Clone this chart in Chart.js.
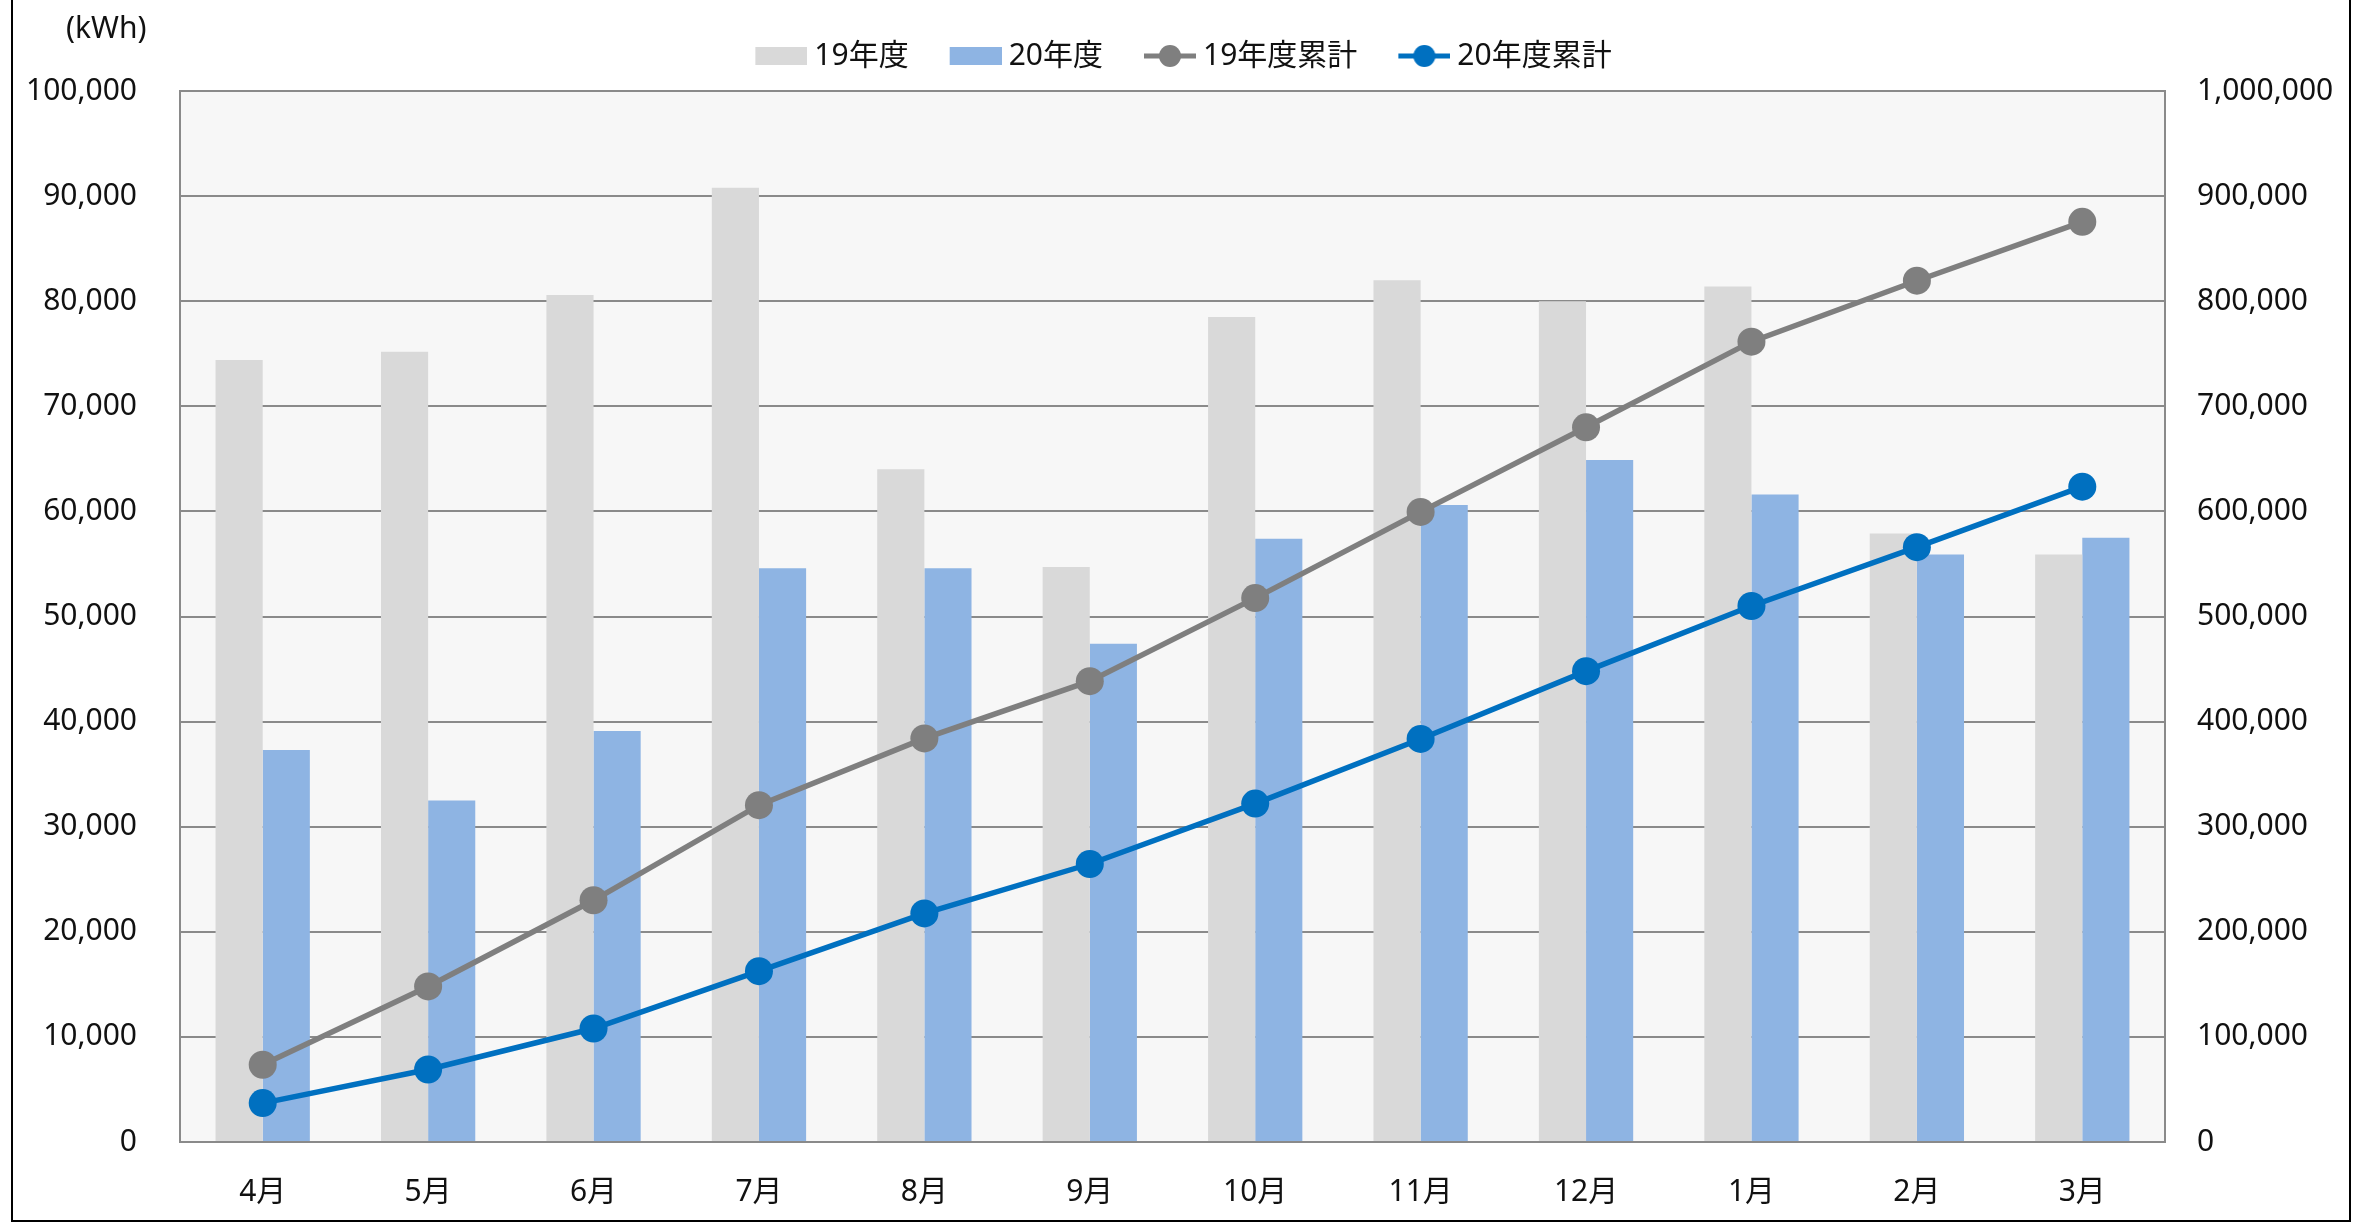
<!DOCTYPE html>
<html lang="ja">
<head>
<meta charset="utf-8">
<script src="https://cdn.jsdelivr.net/npm/chart.js@4.4.0/dist/chart.umd.min.js"></script>
<style>
  html, body { margin: 0; padding: 0; background: #fff; }
  #wrap { position: relative; width: 2367px; height: 1229px; overflow: hidden; }
  #frame { position: absolute; left: 11px; top: -3px; width: 2340px; height: 1225px; border: 2px solid #000; box-sizing: border-box; }
  #c { position: absolute; left: 0; top: 0; }
</style>
</head>
<body>
<div id="wrap"><div id="frame"></div><canvas id="c" width="2367" height="1229"></canvas></div>
<script>
// 月別 使用電力量 (kWh)
const months = ["4月", "5月", "6月", "7月", "8月", "9月", "10月", "11月", "12月", "1月", "2月", "3月"];
const fy19 = [74400, 75200, 80600, 90800, 64000, 54700, 78500, 82000, 80000, 81400, 57900, 55900];
const fy20 = [37300, 32500, 39100, 54600, 54600, 47400, 57400, 60600, 64900, 61600, 55900, 57500];
// 累計 (右軸)
const fy19Cum = [73500, 148000, 230000, 320500, 384000, 438500, 517500, 599500, 680000, 761500, 819500, 875500];
const fy20Cum = [37000, 69000, 108000, 162500, 217500, 264500, 322000, 383500, 448000, 510000, 566000, 623500];

const FONT = '"Noto Sans", "Noto Sans CJK JP", sans-serif';
const GRID = "#8a8a8a";
const TXT = "#111";

// 凡例アイコン (四角 / 線+丸)
function makeIcon(kind, color) {
  const c = document.createElement("canvas");
  c.width = 60; c.height = 30;
  const g = c.getContext("2d");
  if (kind === "box") {
    g.fillStyle = color;
    g.fillRect(8, 6, 52, 18);
  } else {
    g.strokeStyle = color; g.lineWidth = 5;
    g.beginPath(); g.moveTo(8, 15); g.lineTo(60, 15); g.stroke();
    g.fillStyle = color;
    g.beginPath(); g.arc(34, 15, 11, 0, Math.PI * 2); g.fill();
  }
  return c;
}
const icons = [makeIcon("box", "#d9d9d9"), makeIcon("box", "#8eb4e3"), makeIcon("line", "#7f7f7f"), makeIcon("line", "#0070c0")];

// プロット背景
const plotBg = {
  id: "plotBg",
  beforeDraw(chart) {
    const a = chart.chartArea, ctx = chart.ctx;
    ctx.save();
    ctx.fillStyle = "#f7f7f7";
    ctx.fillRect(a.left, a.top, a.right - a.left, a.bottom - a.top);
    ctx.restore();
  }
};

// 単位ラベル
const unitLabel = {
  id: "unitLabel",
  afterDraw(chart) {
    const ctx = chart.ctx;
    ctx.save();
    ctx.font = "30px " + FONT;
    ctx.fillStyle = TXT;
    ctx.textBaseline = "middle";
    ctx.fillText("(kWh)", 66, 29);
    ctx.restore();
  }
};

// 凡例の高さを固定
const legendHeight = {
  id: "legendHeight",
  beforeLayout(chart) {
    const lg = chart.legend;
    if (!lg || lg._fixed) return;
    const fit = lg.fit;
    lg.fit = function () { fit.call(this); this.height = 91; };
    lg._fixed = true;
  }
};

const tickFont = { size: 30, family: FONT };

new Chart(document.getElementById("c").getContext("2d"), {
  type: "bar",
  data: {
    labels: months,
    datasets: [
      { label: "19年度", data: fy19, backgroundColor: "#d9d9d9", yAxisID: "y", order: 2,
        categoryPercentage: 0.57, barPercentage: 1.0 },
      { label: "20年度", data: fy20, backgroundColor: "#8eb4e3", yAxisID: "y", order: 2,
        categoryPercentage: 0.57, barPercentage: 1.0 },
      { type: "line", label: "19年度累計", data: fy19Cum, yAxisID: "y1", order: 1,
        borderColor: "#7f7f7f", backgroundColor: "#7f7f7f", borderWidth: 5.5, tension: 0,
        pointRadius: 14, pointBorderWidth: 0, pointBackgroundColor: "#7f7f7f" },
      { type: "line", label: "20年度累計", data: fy20Cum, yAxisID: "y1", order: 0,
        borderColor: "#0070c0", backgroundColor: "#0070c0", borderWidth: 5.5, tension: 0,
        pointRadius: 14, pointBorderWidth: 0, pointBackgroundColor: "#0070c0" }
    ]
  },
  options: {
    responsive: false,
    animation: false,
    layout: { padding: 0 },
    plugins: {
      tooltip: { enabled: false },
      legend: {
        position: "top",
        labels: {
          usePointStyle: true, pointStyleWidth: 44, padding: 41,
          font: { size: 30, family: FONT }, color: TXT,
          generateLabels(chart) {
            return chart.data.datasets.map((ds, i) => ({
              text: ds.label, pointStyle: icons[i], datasetIndex: i,
              hidden: !chart.isDatasetVisible(i), lineWidth: 0,
              fillStyle: "rgba(0,0,0,0)", strokeStyle: "rgba(0,0,0,0)", fontColor: TXT
            }));
          }
        }
      }
    },
    scales: {
      x: {
        grid: { display: false },
        border: { display: true, color: GRID, width: 2 },
        ticks: { padding: 24, font: tickFont, color: TXT },
        afterFit(s) { s.height = 87; }
      },
      y: {
        position: "left", min: 0, max: 100000,
        ticks: { stepSize: 10000, padding: 43, font: tickFont, color: TXT,
          callback: v => v.toLocaleString("en-US") },
        grid: { color: GRID, lineWidth: 2, drawTicks: false },
        border: { color: GRID, width: 2 },
        afterFit(s) { s.width = 180; }
      },
      y1: {
        position: "right", min: 0, max: 1000000,
        ticks: { stepSize: 100000, padding: 32, font: tickFont, color: TXT,
          callback: v => v.toLocaleString("en-US") },
        grid: { display: false, drawTicks: false },
        border: { display: true, color: GRID, width: 2 },
        afterFit(s) { s.width = 202; }
      }
    }
  },
  plugins: [plotBg, unitLabel, legendHeight]
});
</script>
</body>
</html>
